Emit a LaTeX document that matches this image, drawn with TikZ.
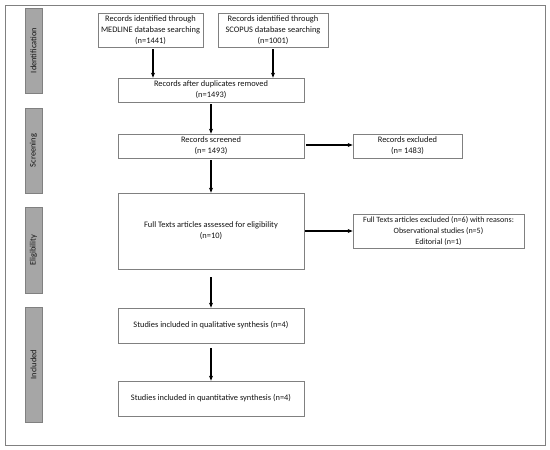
\documentclass[tikz,border=0pt]{standalone}
\usepackage{fontspec}
\setmainfont{Carlito}
\usetikzlibrary{arrows.meta}
\definecolor{boxline}{HTML}{808080}
\definecolor{barfill}{HTML}{A6A6A6}
\definecolor{txt}{HTML}{141414}
\begin{document}
\begin{tikzpicture}[x=1pt,y=-1pt,
  every node/.style={font=\fontsize{8.4}{10.7}\selectfont, text=txt, inner sep=0pt},
  box/.style={draw=boxline, line width=0.7pt, fill=white, align=center},
  bar/.style={draw=boxline, line width=0.7pt, fill=barfill, minimum width=17pt},
  arr/.style={-{Stealth[length=5pt,width=4pt]}, line width=1.1pt, black}]
\useasboundingbox (0,0) rectangle (550,450);
\draw[boxline, line width=0.8pt] (5,5) rectangle (545.5,445);
% side bars
\node[bar, minimum height=85pt] (b1) at (33.5,50.5) {};
\node[rotate=90] (t1) at (b1.center) {Identification};
\node[bar, minimum height=85pt] (b2) at (33.5,150.5) {};
\node[rotate=90] (t2) at (b2.center) {Screening};
\node[bar, minimum height=86pt] (b3) at (33.5,250) {};
\node[rotate=90] (t3) at (b3.center) {Eligibility};
\node[bar, minimum height=115pt] (b4) at (33.5,364.5) {};
\node[rotate=90] (t4) at (b4.center) {Included};
% boxes
\node[box, minimum width=105pt, minimum height=34pt] (med) at (150.5,30) {Records identified through\\MEDLINE database searching\\(n=1441)};
\node[box, minimum width=110pt, minimum height=34pt] (sco) at (273,30) {Records identified through\\SCOPUS database searching\\(n=1001)};
\node[box, minimum width=186pt, minimum height=24pt] (dup) at (211,90) {Records after duplicates removed\\(n=1493)};
\node[box, minimum width=186pt, minimum height=24pt] (scr) at (211,146) {Records screened\\(n= 1493)};
\node[box, minimum width=109pt, minimum height=24pt] (exc) at (407.5,146) {Records excluded\\(n= 1483)};
\node[box, minimum width=186pt, minimum height=76pt] (full) at (211,231) {Full Texts articles assessed for eligibility\\(n=10)};
\node[box, minimum width=171pt, minimum height=34pt, font=\fontsize{8.05}{10.7}\selectfont] (exc2) at (438.5,231) {Full Texts articles excluded (n=6) with reasons:\\Observational studies (n=5)\\Editorial (n=1)};
\node[box, minimum width=186pt, minimum height=35pt] (qual) at (211,325.5) {Studies included in qualitative synthesis (n=4)};
\node[box, minimum width=186pt, minimum height=35pt] (quant) at (211,398.5) {Studies included in quantitative synthesis (n=4)};
% arrows
\draw[arr] ([xshift=2.5pt,yshift=-2pt]med.south) -- ([xshift=2.5pt]med.south |- dup.north);
\draw[arr] ([yshift=-2pt]sco.south) -- (sco.south |- dup.north);
\draw[arr] ([yshift=-2pt]dup.south) -- (scr.north);
\draw[arr] ([yshift=-2pt]scr.south) -- (full.north);
\draw[arr] ([yshift=-8pt]full.south) -- (qual.north);
\draw[arr] ([yshift=-5pt]qual.south) -- (quant.north);
\draw[arr] ([xshift=2pt,yshift=1pt]scr.east) -- ([yshift=1pt]exc.west);
\draw[arr] ([xshift=1pt]full.east) -- (exc2.west);
\end{tikzpicture}
\end{document}
